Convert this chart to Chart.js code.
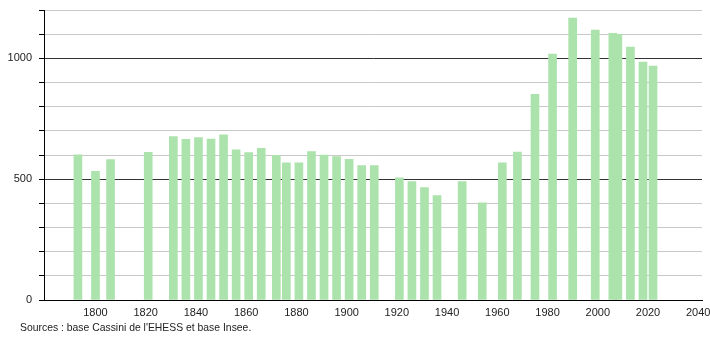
<!DOCTYPE html>
<html>
<head>
<meta charset="utf-8">
<script src="https://cdn.jsdelivr.net/npm/chart.js@4/dist/chart.umd.min.js"></script>
<style>
  html, body { margin: 0; padding: 0; background: #fff; }
  #wrap { position: relative; width: 710px; height: 340px; }
  #c { position: absolute; left: 0; top: 0; }
  #src { position: absolute; left: 20px; top: 322px; font: 10.4px "Liberation Sans", Arial, sans-serif; color: #222; white-space: nowrap; }
</style>
</head>
<body>
<div id="wrap">
  <canvas id="c" width="710" height="340"></canvas>
  <div id="src">Sources : base Cassini de l'EHESS et base Insee.</div>
</div>
<script>
const years = [1793, 1800, 1806, 1821, 1831, 1836, 1841, 1846, 1851, 1856, 1861, 1866, 1872, 1876, 1881, 1886, 1891, 1896, 1901, 1906, 1911, 1921, 1926, 1931, 1936, 1946, 1954, 1962, 1968, 1975, 1982, 1990, 1999, 2006, 2008, 2013, 2018, 2022];
const population = [601, 532, 581, 611, 676, 665, 672, 666, 683, 621, 610, 628, 599, 568, 568, 614, 600, 593, 582, 556, 556, 506, 490, 465, 432, 490, 402, 568, 612, 851, 1018, 1167, 1117, 1103, 1098, 1047, 985, 968];
const xTickLabels = [1800, 1820, 1840, 1860, 1880, 1900, 1920, 1940, 1960, 1980, 2000, 2020, 2040];
const yTickLabels = [0, 500, 1000];
const yGridSteps = [0, 100, 200, 300, 400, 500, 600, 700, 800, 900, 1000, 1100, 1200];

const FONT = { family: '"Liberation Sans", Arial, sans-serif', size: 11 };

new Chart(document.getElementById('c'), {
  type: 'bar',
  data: {
    datasets: [{
      data: years.map((y, i) => ({ x: y, y: population[i] })),
      backgroundColor: 'rgb(172, 226, 172)',
      borderWidth: 0,
      barThickness: 8
    }]
  },
  options: {
    responsive: false,
    animation: false,
    layout: { padding: { top: 10, right: 8, left: 0, bottom: 0 } },
    plugins: { legend: { display: false }, tooltip: { enabled: false } },
    scales: {
      x: {
        type: 'linear',
        offset: false,
        min: 1779.5,
        max: 2041.5,
        afterBuildTicks: s => { s.ticks = xTickLabels.map(v => ({ value: v })); },
        afterFit: s => { s.height = 40; s.paddingLeft = 0; s.paddingRight = 0; },
        grid: { display: false, drawTicks: false, offset: false },
        border: { display: true, color: '#000', width: 1 },
        ticks: { padding: 6, color: '#222', font: FONT, maxRotation: 0, autoSkip: false, callback: v => String(v) }
      },
      y: {
        min: 0,
        max: 1200,
        afterBuildTicks: s => { s.ticks = yGridSteps.map(v => ({ value: v })); },
        afterFit: s => { s.width = 44; s.paddingTop = 0; s.paddingBottom = 0; },
        grid: {
          color: c => (c.tick && c.tick.value % 500 === 0) ? '#333' : '#c8c8c8',
          tickColor: '#000',
          tickLength: 5,
          lineWidth: 1
        },
        border: { display: true, color: '#000', width: 1 },
        ticks: {
          padding: 7, color: '#222', font: FONT, autoSkip: false,
          callback: v => yTickLabels.includes(v) ? String(v) : ''
        }
      }
    }
  }
});
</script>
</body>
</html>
